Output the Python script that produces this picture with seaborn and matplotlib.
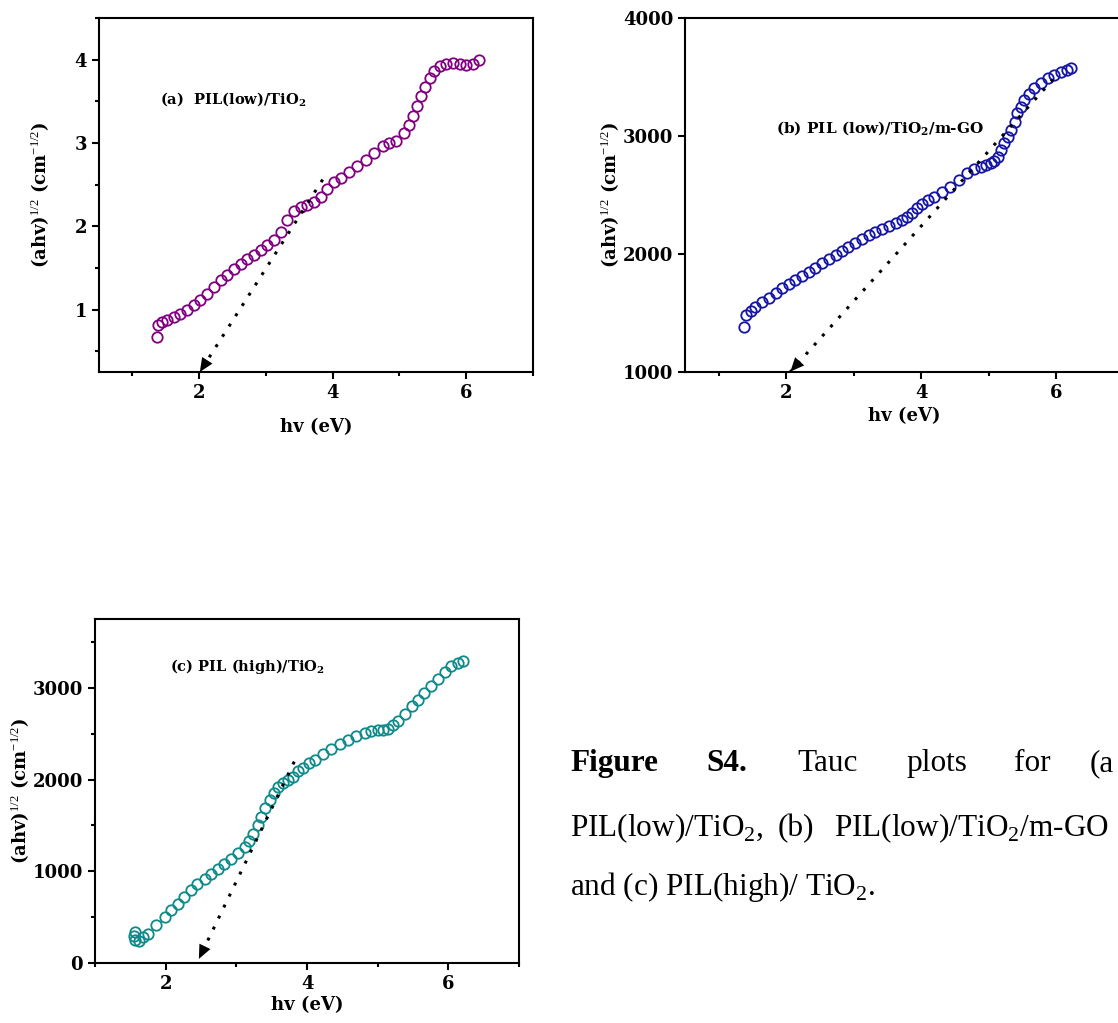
import numpy as np
import pandas as pd
import matplotlib
matplotlib.use("Agg")
import matplotlib.pyplot as plt
from matplotlib.ticker import MultipleLocator
import seaborn as sns

# ---- data ----
# (a) PIL(low)/TiO2
hv_a = [1.37, 1.39, 1.45, 1.52, 1.62, 1.72, 1.82, 1.92, 2.02, 2.12, 2.22, 2.32,
        2.42, 2.52, 2.62, 2.72, 2.82, 2.92, 3.02, 3.12, 3.22, 3.32, 3.42, 3.52,
        3.62, 3.72, 3.82, 3.92, 4.02, 4.12, 4.25, 4.37, 4.50, 4.62, 4.75, 4.85,
        4.95, 5.07, 5.14, 5.20, 5.26, 5.32, 5.38, 5.45, 5.52, 5.60, 5.70, 5.80,
        5.90, 6.00, 6.10, 6.19]
tauc_a = [0.67, 0.81, 0.85, 0.87, 0.91, 0.95, 1.00, 1.05, 1.12, 1.19, 1.27, 1.35,
          1.42, 1.49, 1.55, 1.61, 1.66, 1.71, 1.77, 1.83, 1.93, 2.07, 2.18, 2.23,
          2.26, 2.29, 2.35, 2.45, 2.53, 2.58, 2.65, 2.72, 2.80, 2.88, 2.96, 3.00,
          3.02, 3.12, 3.21, 3.32, 3.44, 3.56, 3.67, 3.78, 3.86, 3.92, 3.95, 3.96,
          3.95, 3.94, 3.95, 3.99]

# (b) PIL(low)/TiO2/m-GO
hv_b = [1.38, 1.40, 1.47, 1.54, 1.64, 1.74, 1.84, 1.94, 2.04, 2.13, 2.23, 2.33,
        2.43, 2.53, 2.63, 2.73, 2.83, 2.92, 3.02, 3.12, 3.22, 3.32, 3.42, 3.52,
        3.62, 3.71, 3.79, 3.86, 3.94, 4.01, 4.10, 4.19, 4.31, 4.43, 4.55, 4.68,
        4.78, 4.88, 4.96, 5.03, 5.08, 5.13, 5.18, 5.23, 5.28, 5.33, 5.38, 5.42,
        5.47, 5.52, 5.59, 5.67, 5.77, 5.87, 5.97, 6.07, 6.15, 6.22]
tauc_b = [1384, 1483, 1520, 1553, 1590, 1625, 1667, 1709, 1745, 1780, 1815, 1850,
          1885, 1921, 1957, 1992, 2027, 2062, 2094, 2125, 2157, 2189, 2213, 2237,
          2262, 2288, 2315, 2345, 2390, 2425, 2455, 2480, 2525, 2570, 2627, 2684,
          2720, 2740, 2755, 2769, 2790, 2825, 2880, 2938, 2995, 3051, 3120, 3192,
          3250, 3305, 3360, 3404, 3450, 3489, 3520, 3545, 3562, 3574]

# (c) PIL(high)/TiO2
hv_c = [1.56, 1.55, 1.57, 1.62, 1.68, 1.75, 1.87, 1.99, 2.08, 2.17, 2.26, 2.36,
        2.45, 2.55, 2.64, 2.74, 2.83, 2.93, 3.03, 3.12, 3.18, 3.24, 3.30, 3.35,
        3.41, 3.47, 3.53, 3.59, 3.66, 3.73, 3.80, 3.87, 3.95, 4.03, 4.11, 4.22,
        4.34, 4.46, 4.58, 4.70, 4.82, 4.91, 5.00, 5.08, 5.15, 5.22, 5.29, 5.38,
        5.48, 5.57, 5.66, 5.75, 5.85, 5.95, 6.04, 6.13, 6.21]
tauc_c = [340, 290, 250, 245, 280, 320, 410, 502, 575, 647, 720, 793,
          860, 920, 975, 1029, 1083, 1138, 1200, 1265, 1330, 1411, 1500, 1593,
          1685, 1775, 1850, 1920, 1965, 1993, 2030, 2090, 2130, 2175, 2215, 2280,
          2330, 2390, 2434, 2475, 2507, 2530, 2540, 2545, 2550, 2590, 2635, 2715,
          2799, 2870, 2945, 3020, 3091, 3170, 3237, 3275, 3295]

# extrapolation arrows (start, end)
arrow_a = [(3.85, 2.56), (2.01, 0.25)]
arrow_b = [(5.95, 3480), (2.06, 1003)]
arrow_c = [(3.82, 2195), (2.47, 45)]

labels = [r"(a)  PIL(low)/TiO$_{\mathbf{2}}$",
          r"(b) PIL (low)/TiO$_{\mathbf{2}}$/m-GO",
          r"(c) PIL (high)/TiO$_{\mathbf{2}}$"]
colors = ["#800080", "#1414A6", "#0E8A8A"]

# ---- style ----
sns.set_style("ticks", {"axes.edgecolor": "black", "text.color": "black",
                        "axes.labelcolor": "black", "xtick.color": "black",
                        "ytick.color": "black"})
plt.rcParams["font.family"] = ["DejaVu Serif"]
plt.rcParams["mathtext.fontset"] = "custom"
plt.rcParams["mathtext.rm"] = "Liberation Serif"
plt.rcParams["mathtext.bf"] = "DejaVu Serif:bold"
plt.rcParams["axes.linewidth"] = 1.5

W, H = 1118, 1023
fig = plt.figure(figsize=(W / 100, H / 100), dpi=100)


def box(left, right, top, bottom):
    return [left / W, 1 - bottom / H, (right - left) / W, (bottom - top) / H]


def panel(rect, x, y, color, label, label_xy, label_fs, arrow, xlim, ylim,
          xmaj, xmin, ymaj, ymin, ylab_x, xpad):
    ax = fig.add_axes(rect)
    df = pd.DataFrame({"hv": x, "tauc": y})
    sns.lineplot(data=df, x="hv", y="tauc", ax=ax, sort=False, estimator=None,
                 marker="o", markersize=7.5, markerfacecolor="none",
                 markeredgecolor=color, markeredgewidth=1.3,
                 linestyle="", color=color)
    # dotted extrapolation line + solid arrow head at the lower end
    (x0, y0), (x1, y1) = arrow
    ax.plot([x0, x1], [y0, y1], color="black", lw=2.2,
            linestyle=(0, (1, 3)), zorder=5)
    hx = x1 + (x0 - x1) * 0.08
    hy = y1 + (y0 - y1) * 0.08
    ax.annotate("", xy=(x1, y1), xytext=(hx, hy),
                arrowprops=dict(arrowstyle="-|>,head_length=0.5,head_width=0.22",
                                lw=0, color="black", mutation_scale=20,
                                shrinkA=0, shrinkB=0),
                zorder=6)
    ax.text(label_xy[0], label_xy[1], label, fontsize=label_fs,
            fontweight="bold", va="center", ha="left")
    ax.set_xlim(*xlim)
    ax.set_ylim(*ylim)
    ax.xaxis.set_major_locator(MultipleLocator(xmaj))
    ax.xaxis.set_minor_locator(MultipleLocator(xmin))
    ax.yaxis.set_major_locator(MultipleLocator(ymaj))
    if ymin:
        ax.yaxis.set_minor_locator(MultipleLocator(ymin))
    ax.tick_params(which="major", direction="out", length=5, width=1.5,
                   labelsize=13, top=False, right=False)
    ax.tick_params(which="minor", direction="out", length=3, width=1.5,
                   top=False, right=False)
    for t in ax.get_xticklabels() + ax.get_yticklabels():
        t.set_fontweight("bold")
    for s in ax.spines.values():
        s.set_visible(True)
        s.set_linewidth(1.5)
    ax.set_xlabel("hv (eV)", fontsize=13, fontweight="bold", labelpad=xpad)
    ax.set_ylabel(r"(ahv)$^{\mathrm{1/2}}$ (cm$^{\mathrm{-1/2}}$)",
                  fontsize=13, fontweight="bold")
    ax.yaxis.set_label_coords(ylab_x, 0.5)
    return ax


panel(box(99, 533, 18, 372), hv_a, tauc_a, colors[0], labels[0], (1.42, 3.52),
      10.5, arrow_a, (0.5, 7), (0.25, 4.5), 2, 1, 1, 0.5, -0.11, 12)
panel(box(685, 1124, 18, 372), hv_b, tauc_b, colors[1], labels[1], (1.84, 3060),
      11, arrow_b, (0.5, 7), (1000, 4000), 2, 1, 1000, None, -0.146, 4)
panel(box(95, 519, 619, 963), hv_c, tauc_c, colors[2], labels[2], (2.06, 3230),
      10.5, arrow_c, (1, 7), (0, 3750), 2, 1, 1000, 500, -0.151, 2)

# ---- caption (justified words) ----
cap = dict(fontsize=22.5, family="Liberation Serif", va="baseline", ha="left",
           color="black")
line1 = [("Figure", 570, "bold"), ("S4.", 706, "bold"), ("Tauc", 797, "normal"),
         ("plots", 906, "normal"), ("for", 1014, "normal"), ("(a", 1090, "normal")]
line2 = [(r"PIL(low)/TiO$_{\mathrm{2}}$,", 570, "normal"), ("(b)", 778, "normal"),
         (r"PIL(low)/TiO$_{\mathrm{2}}$/m-GO", 834, "normal")]
line3 = [(r"and (c) PIL(high)/ TiO$_{\mathrm{2}}$.", 570, "normal")]
for words, ypx in [(line1, 771), (line2, 836), (line3, 895)]:
    for txt, xpx, wt in words:
        fig.text(xpx / W, 1 - ypx / H, txt, fontweight=wt, **cap)

fig.savefig("out.png", dpi=100)
